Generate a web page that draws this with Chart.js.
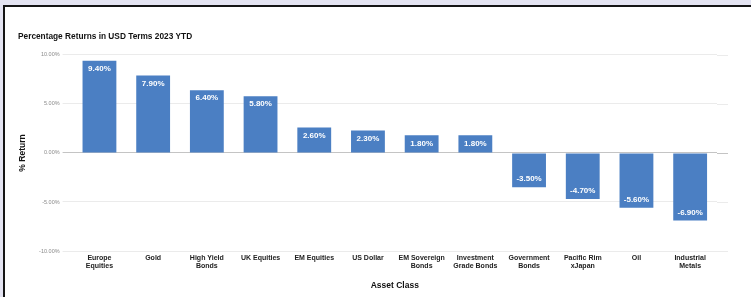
<!DOCTYPE html>
<html>
<head>
<meta charset="utf-8">
<script src="https://cdn.jsdelivr.net/npm/chart.js@4"></script>
<style>
  html, body { margin: 0; padding: 0; }
  body { width: 751px; height: 297px; background: #e4e4f2; position: relative; overflow: hidden; }
  .frame { position: absolute; left: 3px; top: 5px; right: 0; bottom: 0; background: #fff;
           border-top: 2px solid #151515; border-left: 2px solid #151515; }
  #returnsChart { position: absolute; left: 0; top: 0; }
</style>
</head>
<body>
<div class="frame"></div>
<canvas id="returnsChart" width="751" height="297"></canvas>
<script>
const assetClasses = [
  ['Europe', 'Equities'], 'Gold', ['High Yield', 'Bonds'], 'UK Equities', 'EM Equities', 'US Dollar',
  ['EM Sovereign', 'Bonds'], ['Investment', 'Grade Bonds'], ['Government', 'Bonds'],
  ['Pacific Rim', 'xJapan'], 'Oil', ['Industrial', 'Metals']
];
const returnsPct = [9.4, 7.9, 6.4, 5.8, 2.6, 2.3, 1.8, 1.8, -3.5, -4.7, -5.6, -6.9];
const yTicks = [-10, -5, 0, 5, 10];

const barColor = '#4b7fc3';

// draws the white value text inside each bar, near its end
const valueLabels = {
  id: 'valueLabels',
  afterDatasetsDraw(chart) {
    const ctx = chart.ctx;
    const meta = chart.getDatasetMeta(0);
    ctx.save();
    ctx.fillStyle = '#fff';
    ctx.font = 'bold 8px "Liberation Sans", Arial, sans-serif';
    ctx.textAlign = 'center';
    ctx.textBaseline = 'middle';
    meta.data.forEach((bar, i) => {
      const v = returnsPct[i];
      const y = v >= 0 ? bar.y + 8 : bar.y - 8;
      ctx.fillText(v.toFixed(2) + '%', bar.x, y);
    });
    ctx.restore();
  }
};

// gridlines in the original run a bit past the last bar
const gridExtend = {
  id: 'gridExtend',
  beforeDatasetsDraw(chart) {
    const ctx = chart.ctx;
    const y = chart.scales.y;
    const area = chart.chartArea;
    ctx.save();
    yTicks.forEach(t => {
      const py = Math.round(y.getPixelForValue(t)) + 0.5;
      ctx.strokeStyle = t === 0 ? '#c4c4c4' : '#ebebeb';
      ctx.lineWidth = 1;
      ctx.beginPath();
      ctx.moveTo(area.right, py);
      ctx.lineTo(area.right + 11, py);
      ctx.stroke();
    });
    ctx.restore();
  }
};

new Chart(document.getElementById('returnsChart'), {
  type: 'bar',
  data: {
    labels: assetClasses,
    datasets: [{
      data: returnsPct,
      backgroundColor: barColor,
      borderWidth: 0,
      categoryPercentage: 1,
      barPercentage: 0.63
    }]
  },
  options: {
    responsive: false,
    animation: false,
    events: [],
    layout: { padding: { left: 18, right: 34, top: 30, bottom: 6 } },
    plugins: {
      legend: { display: false },
      tooltip: { enabled: false },
      title: {
        display: true,
        text: 'Percentage Returns in USD Terms 2023 YTD',
        align: 'start',
        color: '#111',
        font: { family: '"Liberation Sans", Arial, sans-serif', size: 8.3, weight: 'bold' },
        padding: { top: 2, bottom: 13 }
      }
    },
    scales: {
      x: {
        grid: { display: false, drawTicks: false },
        border: { display: false },
        ticks: {
          color: '#222',
          padding: 3,
          maxRotation: 0,
          autoSkip: false,
          font: { family: '"Liberation Sans", Arial, sans-serif', size: 7, weight: 'bold', lineHeight: 1.15 }
        },
        title: {
          display: true,
          text: 'Asset Class',
          color: '#111',
          font: { family: '"Liberation Sans", Arial, sans-serif', size: 8.5, weight: 'bold' },
          padding: { top: 0, bottom: 0 }
        },
        afterFit(scale) { scale.height = 40; }
      },
      y: {
        min: -10,
        max: 10,
        afterBuildTicks(scale) { scale.ticks = yTicks.map(v => ({ value: v })); },
        grid: {
          color: ctx => ctx.tick && ctx.tick.value === 0 ? '#c4c4c4' : '#ebebeb',
          tickLength: 10
        },
        border: { display: false },
        ticks: {
          color: '#8a8a8a',
          padding: 3,
          font: { family: '"Liberation Sans", Arial, sans-serif', size: 5.5 },
          callback: v => v.toFixed(2) + '%'
        },
        title: {
          display: true,
          text: '% Return',
          color: '#111',
          font: { family: '"Liberation Sans", Arial, sans-serif', size: 8.5, weight: 'bold' },
          padding: { top: 0, bottom: 0 }
        },
        afterFit(scale) { scale.width = 54.6; }
      }
    }
  },
  plugins: [valueLabels, gridExtend]
});
</script>
</body>
</html>
